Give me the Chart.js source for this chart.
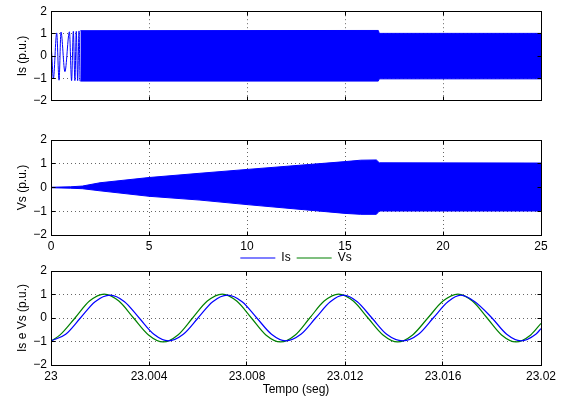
<!DOCTYPE html>
<html>
<head>
<meta charset="utf-8">
<script src="https://cdn.jsdelivr.net/npm/chart.js@4.4.1/dist/chart.umd.min.js"></script>
<style>
  body { margin: 0; background: #fff; }
  #wrap { position: relative; width: 564px; height: 402px; overflow: hidden; }
  canvas { position: absolute; left: 0; }
</style>
</head>
<body>
<div id="wrap">
  <canvas id="c1" width="564" height="112" style="top:0px"></canvas>
  <canvas id="c2" width="564" height="140" style="top:120px"></canvas>
  <canvas id="c3" width="564" height="156" style="top:246px"></canvas>
</div>
<script>
// --- dados ---
// eixos
var yTicks = [-2, -1, 0, 1, 2];
var tTicks = [0, 5, 10, 15, 20, 25];
var zoomTicks = [23, 23.004, 23.008, 23.012, 23.016, 23.02];
var zoomTickLabels = ['23', '23.004', '23.008', '23.012', '23.016', '23.02'];

// Is (0..25 s): inicio com oscilacao lenta, depois envoltoria da parte densa
var isStartT = [0, 0.04, 0.12, 0.29, 0.41, 0.51, 0.71, 0.94, 1.05, 1.14, 1.22, 1.29, 1.36, 1.43, 1.48];
var isStartV = [0.55, 0.05, -1.02, 1.03, -1.08, 1.07, -0.7, 1.08, -1.1, 1.1, -1.1, 1.1, -1.1, 1.12, -1.12];
var isEnvT = [1.5, 16.7, 16.75, 25];
var isEnvHi = [1.13, 1.14, 1.01, 1.01];
var isEnvLo = [-1.12, -1.12, -1.02, -1.02];

// Vs (0..25 s): envoltoria
var vsEnvT = [0, 1, 1.6, 2.5, 5, 7.6, 10, 15, 15.8, 16.6, 16.75, 25];
var vsEnvHi = [0.01, 0.03, 0.06, 0.2, 0.42, 0.6, 0.76, 1.09, 1.15, 1.16, 1.04, 1.03];
var vsEnvLo = [-0.01, -0.03, -0.05, -0.14, -0.37, -0.53, -0.72, -1.09, -1.13, -1.13, -0.99, -0.99];

// detalhe 23 .. 23.02 s
var isZoomT = [23.0000, 23.0006, 23.0012, 23.0018, 23.00241, 23.0030, 23.0036, 23.0042, 23.00479,
  23.0054, 23.0060, 23.0066, 23.00720, 23.0078, 23.0084, 23.0090, 23.00957,
  23.0102, 23.0108, 23.0114, 23.01194, 23.0125, 23.0131, 23.0137, 23.01436,
  23.0150, 23.0156, 23.0162, 23.01673, 23.0173, 23.0180, 23.0186, 23.01918, 23.0198, 23.0200];
var isZoomV = [-0.97, -0.69, 0, 0.69, 0.97, 0.69, 0, -0.69, -0.97,
  -0.69, 0, 0.69, 0.97, 0.69, 0, -0.69, -0.97,
  -0.69, 0, 0.69, 0.97, 0.69, 0, -0.69, -0.97,
  -0.69, 0, 0.69, 0.97, 0.69, 0, -0.69, -0.97, -0.68, -0.45];
var vsZoomT = [23.0000, 23.00037, 23.00098, 23.00157, 23.00217, 23.00277, 23.00337, 23.00398, 23.00458,
  23.00518, 23.00578, 23.00638, 23.00699, 23.00758, 23.00818, 23.00877, 23.00937,
  23.00997, 23.01056, 23.01115, 23.01174, 23.01234, 23.01294, 23.01355, 23.01415,
  23.01476, 23.01538, 23.0160, 23.01661, 23.0172, 23.0178, 23.01839, 23.01898, 23.01958, 23.0200];
var vsZoomV = [-0.98, -0.72, 0, 0.72, 1.02, 0.72, 0, -0.72, -1.02,
  -0.72, 0, 0.72, 1.02, 0.72, 0, -0.72, -1.02,
  -0.72, 0, 0.72, 1.02, 0.72, 0, -0.72, -1.02,
  -0.72, 0, 0.72, 1.02, 0.72, 0, -0.72, -1.02, -0.72, -0.23];

// --- estilo ---
Chart.defaults.font.family = '"Liberation Sans", Arial, Helvetica, sans-serif';
Chart.defaults.font.size = 12;
Chart.defaults.color = '#000';
Chart.defaults.animation = false;

var BLUE = '#0000ff';
var GREEN = '#008000';
var GRID = 'rgba(0,0,0,0.6)';

function pts(xs, ys) {
  return xs.map(function (x, i) { return { x: x, y: ys[i] }; });
}
function minus(v) { return String(v).replace('-', '\u2212'); }
function fixTicks(list) {
  return function (s) { s.ticks = list.map(function (v) { return { value: v }; }); };
}
function al(p) { return Math.round(p - 0.5) + 0.5; }

// caixa fechada com marcas para dentro (estilo matlab)
var boxPlugin = {
  id: 'box',
  afterDraw: function (chart) {
    var ctx = chart.ctx, a = chart.chartArea, sx = chart.scales.x, sy = chart.scales.y;
    var l = al(a.left), r = al(a.right), t = al(a.top), b = al(a.bottom);
    ctx.save();
    ctx.strokeStyle = '#000';
    ctx.lineWidth = 1;
    ctx.strokeRect(l, t, r - l, b - t);
    ctx.beginPath();
    sx.ticks.forEach(function (tk) {
      var px = al(sx.getPixelForValue(tk.value));
      ctx.moveTo(px, t); ctx.lineTo(px, t + 4);
      ctx.moveTo(px, b); ctx.lineTo(px, b - 4);
    });
    sy.ticks.forEach(function (tk) {
      var py = al(sy.getPixelForValue(tk.value));
      ctx.moveTo(l, py); ctx.lineTo(l + 4, py);
      ctx.moveTo(r, py); ctx.lineTo(r - 4, py);
    });
    ctx.stroke();
    ctx.restore();
  }
};

function yAxis(title) {
  return {
    min: -2, max: 2,
    afterBuildTicks: fixTicks(yTicks),
    afterFit: function (s) { s.width = 51; },
    ticks: { padding: 4, callback: function (v) { return minus(v); } },
    grid: { color: GRID, drawTicks: false },
    border: { display: false, dash: [1, 3] },
    title: { display: true, text: title, padding: { top: 15, bottom: 0 } }
  };
}

function xAxis(min, max, ticks, h, showLabels) {
  return {
    type: 'linear', min: min, max: max,
    afterBuildTicks: fixTicks(ticks),
    afterFit: function (s) { s.height = h; },
    ticks: { display: showLabels, padding: 4, maxRotation: 0, autoSkip: false },
    grid: { color: GRID, drawTicks: false },
    border: { display: false, dash: [1, 3] }
  };
}

function line(data, color, extra) {
  var d = {
    data: data, borderColor: color, backgroundColor: color,
    borderWidth: 1, pointRadius: 0, fill: false
  };
  for (var k in extra) d[k] = extra[k];
  return d;
}

// grafico 1: Is
new Chart(document.getElementById('c1'), {
  type: 'line',
  data: {
    datasets: [
      line(pts(isStartT, isStartV), BLUE, { cubicInterpolationMode: 'monotone' }),
      line(pts(isEnvT, isEnvHi), BLUE, { fill: '+1' }),
      line(pts(isEnvT, isEnvLo), BLUE, {})
    ]
  },
  options: {
    responsive: false,
    layout: { padding: { top: 9, right: 23, left: 0, bottom: 0 } },
    plugins: { legend: { display: false }, tooltip: { enabled: false } },
    scales: { x: xAxis(0, 25, tTicks, 9, false), y: yAxis('Is (p.u.)') }
  },
  plugins: [boxPlugin]
});

// grafico 2: Vs
new Chart(document.getElementById('c2'), {
  type: 'line',
  data: {
    datasets: [
      line(pts(vsEnvT, vsEnvHi), BLUE, { fill: '+1' }),
      line(pts(vsEnvT, vsEnvLo), BLUE, {})
    ]
  },
  options: {
    responsive: false,
    layout: { padding: { top: 20, right: 23, left: 0, bottom: 0 } },
    plugins: { legend: { display: false }, tooltip: { enabled: false } },
    scales: { x: xAxis(0, 25, tTicks, 25, true), y: yAxis('Vs (p.u.)') }
  },
  plugins: [boxPlugin]
});

// grafico 3: detalhe Is e Vs
var x3 = xAxis(23, 23.02, zoomTicks, 37, true);
x3.ticks.callback = function (v, i) { return zoomTickLabels[i]; };
x3.title = { display: true, text: 'Tempo (seg)', padding: { top: 0, bottom: 5 } };

new Chart(document.getElementById('c3'), {
  type: 'line',
  data: {
    datasets: [
      line(pts(isZoomT, isZoomV), BLUE, { label: 'Is', borderWidth: 1.2, cubicInterpolationMode: 'monotone' }),
      line(pts(vsZoomT, vsZoomV), GREEN, { label: 'Vs', borderWidth: 1.2, cubicInterpolationMode: 'monotone' })
    ]
  },
  options: {
    responsive: false,
    layout: { padding: { top: 0, right: 23, left: 0, bottom: 0 } },
    plugins: {
      tooltip: { enabled: false },
      legend: {
        position: 'top', fullSize: false, maxHeight: 25,
        labels: { usePointStyle: true, pointStyle: 'line', pointStyleWidth: 35, padding: 6, color: '#000' }
      }
    },
    scales: { x: x3, y: yAxis('Is e Vs (p.u.)') }
  },
  plugins: [boxPlugin]
});
</script>
</body>
</html>
